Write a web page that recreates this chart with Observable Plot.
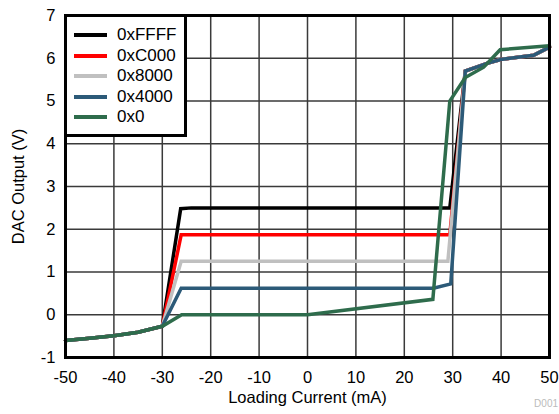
<!DOCTYPE html>
<html>
<head>
<meta charset="utf-8">
<script src="https://cdn.jsdelivr.net/npm/d3@7"></script>
<script src="https://cdn.jsdelivr.net/npm/@observablehq/plot@0.6"></script>
<style>
  html, body { margin: 0; padding: 0; background: #fff; }
  #wrap { position: relative; width: 559px; height: 414px; overflow: hidden; font-family: "Liberation Sans", Arial, Helvetica, sans-serif; }
  #legend { position: absolute; left: 64px; top: 14px; width: 117px; height: 117px; border: 3px solid #000; background: #fff; }
  .row { position: absolute; left: 0; height: 20px; display: flex; align-items: center; }
  .sw { width: 33px; height: 4px; margin-left: 7px; margin-right: 10px; }
  .lab { font-size: 17px; color: #000; }
  #code { position: absolute; right: 1px; top: 398px; font-size: 10px; color: #bbb; white-space: nowrap; }
</style>
</head>
<body>
<div id="wrap"><div id="legend"></div><div id="code">D001</div></div>
<script>
// ---- data ----
const seriesNames = ["0xFFFF", "0xC000", "0x8000", "0x4000", "0x0"];
const seriesColors = ["#000000", "#ff0000", "#c0c0c0", "#2c5a78", "#2e6c4c"];

const xFFFF_x = [-50, -45, -40, -35, -30, -26.2, -24, 29.4, 32.6, 37.1, 39.9, 46.7, 50];
const xFFFF_y = [-0.6, -0.55, -0.49, -0.41, -0.27, 2.48, 2.5, 2.5, 5.7, 5.88, 5.97, 6.07, 6.26];

const xC000_x = [-50, -45, -40, -35, -30, -26.1, 29.4, 32.6, 37.1, 39.9, 46.7, 50];
const xC000_y = [-0.6, -0.55, -0.49, -0.41, -0.27, 1.87, 1.87, 5.7, 5.88, 5.97, 6.07, 6.26];

const x8000_x = [-50, -45, -40, -35, -30, -26.1, 29.0, 32.6, 37.1, 39.9, 46.7, 50];
const x8000_y = [-0.6, -0.55, -0.49, -0.41, -0.27, 1.25, 1.25, 5.7, 5.88, 5.97, 6.07, 6.26];

const x4000_x = [-50, -45, -40, -35, -30, -26.1, 26.0, 29.6, 32.6, 37.1, 39.9, 46.7, 50];
const x4000_y = [-0.6, -0.55, -0.49, -0.41, -0.27, 0.62, 0.62, 0.72, 5.7, 5.88, 5.97, 6.07, 6.26];

const x0_x = [-50, -45, -40, -35, -30, -26, 0, 25.9, 29.4, 32.6, 36.4, 39.8, 50];
const x0_y = [-0.6, -0.55, -0.49, -0.41, -0.27, 0.0, 0.0, 0.36, 5.0, 5.55, 5.79, 6.2, 6.29];

const xTicks = [-50, -40, -30, -20, -10, 0, 10, 20, 30, 40, 50];
const yTicks = [-1, 0, 1, 2, 3, 4, 5, 6, 7];

// ---- build table ----
const seriesX = [xFFFF_x, xC000_x, x8000_x, x4000_x, x0_x];
const seriesY = [xFFFF_y, xC000_y, x8000_y, x4000_y, x0_y];
const rows = [];
seriesNames.forEach((name, i) => {
  seriesX[i].forEach((x, j) => rows.push({ name, x, y: seriesY[i][j] }));
});

const chart = Plot.plot({
  width: 559,
  height: 414,
  marginLeft: 65,
  marginRight: 10,
  marginTop: 15,
  marginBottom: 57,
  style: { fontFamily: '"Liberation Sans", Arial, Helvetica, sans-serif', fontSize: "16.5px", background: "#fff", color: "#000" },
  x: { domain: [-50, 50] },
  y: { domain: [-1, 7] },
  color: { domain: seriesNames, range: seriesColors },
  marks: [
    Plot.gridX(xTicks, { stroke: "#3a3a3a", strokeOpacity: 1, strokeWidth: 1.5 }),
    Plot.gridY(yTicks, { stroke: "#3a3a3a", strokeOpacity: 1, strokeWidth: 1.5 }),
    Plot.line(rows, { x: "x", y: "y", z: "name", stroke: "name", strokeWidth: 3.5, strokeLinejoin: "miter", strokeMiterlimit: 4 }),
    Plot.frame({ stroke: "#000", strokeWidth: 3 }),
    Plot.axisX({ ticks: xTicks, tickSize: 0, tickPadding: 14, tickFormat: d => String(d),
      label: "Loading Current (mA)", labelAnchor: "center", labelOffset: 45, labelArrow: "none" }),
    Plot.axisY({ ticks: yTicks, tickSize: 0, tickPadding: 10, tickFormat: d => String(d),
      label: "DAC Output (V)", labelAnchor: "center", labelOffset: 53, labelArrow: "none" })
  ]
});
document.getElementById("wrap").insertBefore(chart, document.getElementById("legend"));

// ---- legend ----
const legend = document.getElementById("legend");
seriesNames.forEach((name, i) => {
  const row = document.createElement("div");
  row.className = "row";
  row.style.top = (8 + i * 20.5) + "px";
  const sw = document.createElement("div");
  sw.className = "sw";
  sw.style.background = seriesColors[i];
  const lab = document.createElement("span");
  lab.className = "lab";
  lab.textContent = name;
  row.appendChild(sw);
  row.appendChild(lab);
  legend.appendChild(row);
});
</script>
</body>
</html>
